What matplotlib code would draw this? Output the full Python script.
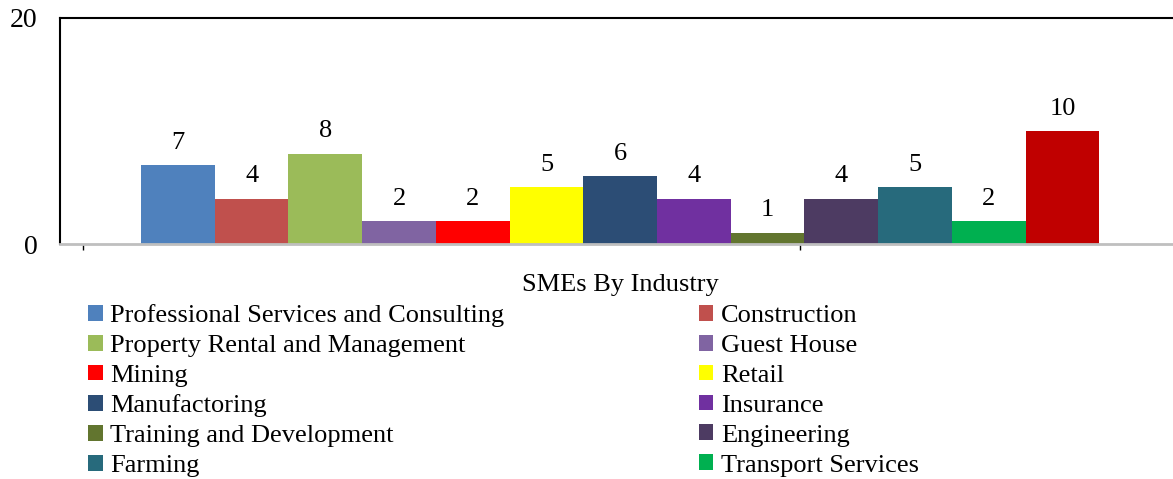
import numpy as np
import matplotlib
matplotlib.use("Agg")
import matplotlib.pyplot as plt

plt.rcParams['font.family'] = ['Liberation Serif', 'DejaVu Serif']

industries = ["Professional Services and Consulting", "Construction",
              "Property Rental and Management", "Guest House", "Mining",
              "Retail", "Manufactoring", "Insurance",
              "Training and Development", "Engineering", "Farming",
              "Transport Services", "Other"]
counts = [7, 4, 8, 2, 2, 5, 6, 4, 1, 4, 5, 2, 10]
colors = ["#4F81BD", "#C0504D", "#9BBB59", "#8064A2", "#FF0000", "#FFFF00",
          "#2C4D75", "#7030A0", "#62752F", "#4D3B62", "#276A7C", "#00B050",
          "#C00000"]
category = "SMEs By Industry"
n_legend = 12  # last series is cut off in the original legend

fs = 19

fig = plt.figure(figsize=(11.73, 4.79), dpi=100)
ax = fig.add_axes([60 / 1173, (479 - 244) / 479, 1113 / 1173, 226 / 479])

x = np.arange(len(counts))
bars = ax.bar(x, counts, width=1.0, align='edge', color=colors, linewidth=0)
for b, v in zip(bars, counts):
    ax.text(b.get_x() + b.get_width() / 2, v + 1.0, str(v),
            ha='center', va='bottom', fontsize=fs)

ax.set_xlim(-1.1, 14.0)
ax.set_ylim(0, 20)
ax.set_yticks([0, 20])
ax.tick_params(axis='y', length=0, labelsize=20, pad=16)
ax.set_xticks([-0.79, 8.94])
ax.tick_params(axis='x', length=4, width=1, labelbottom=False, direction='out')

ax.spines['right'].set_visible(False)
ax.spines['left'].set_color('black')
ax.spines['left'].set_linewidth(1.5)
ax.spines['top'].set_color('black')
ax.spines['top'].set_linewidth(1.5)
ax.spines['bottom'].set_color('#BFBFBF')
ax.spines['bottom'].set_linewidth(2)

fig.text(620 / 1173, 1 - 285 / 479, category, ha='center', va='center',
         fontsize=fs)

# legend filled row by row, two columns
order = list(range(0, n_legend, 2)) + list(range(1, n_legend, 2))
leg = fig.legend([bars[i] for i in order], [industries[i] for i in order],
                 ncol=2, loc='upper left',
                 bbox_to_anchor=(88 / 1173, 1 - 304 / 479),
                 frameon=False, fontsize=fs, handlelength=0.55,
                 handleheight=0.55, handletextpad=0.3, labelspacing=0.29,
                 columnspacing=7.35, borderpad=0, borderaxespad=0)

fig.savefig("out.png", dpi=100)
